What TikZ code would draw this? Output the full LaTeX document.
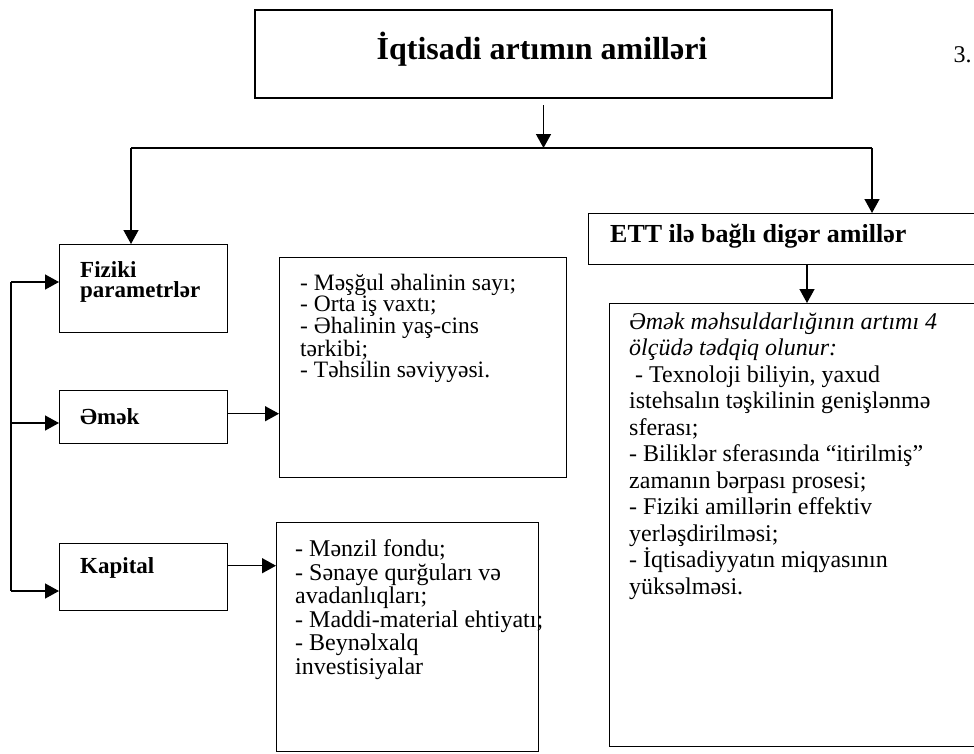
\documentclass[tikz,border=0pt]{standalone}
\usepackage{fontspec}
\setmainfont{Liberation Serif}
\usetikzlibrary{arrows.meta}

\begin{document}
\begin{tikzpicture}[
  x=1pt, y=-1pt,
  box/.style={draw=black, line width=1.4pt, inner sep=0pt, anchor=north west},
  headbox/.style={box, line width=2pt},
  lbl/.style={font=\fontsize{23}{20.5}\selectfont\bfseries, align=left, inner sep=0pt},
  lst/.style={align=left, inner sep=0pt, anchor=north west},
  arr/.style={-{Triangle[length=14pt,width=15pt]}, line width=1.4pt}
]
\useasboundingbox (0,0) rectangle (974,753);

% title
\node[headbox, minimum width=577pt, minimum height=88pt] (top) at (254,9) {};
\node[font=\fontsize{32}{36}\selectfont\bfseries, anchor=base] (toptxt) at (542,59) {İqtisadi artımın amilləri};
\node[font=\fontsize{24}{28}\selectfont, anchor=base west] (pgno) at (950,62) {3.};

% left column
\node[box, minimum width=168pt, minimum height=88pt] (fiz) at (59,244) {};
\node[box, minimum width=168pt, minimum height=53pt] (emk) at (59,390) {};
\node[box, minimum width=168pt, minimum height=67pt] (kap) at (59,543) {};
\node[lbl, anchor=north west] (fiztxt) at (80,261) {Fiziki\\parametrlər};
\node[lbl, anchor=base west]  (emktxt) at (80,424) {Əmək};
\node[lbl, anchor=base west]  (kaptxt) at (80,573) {Kapital};

% lists
\node[box, minimum width=287pt, minimum height=220pt] (emklist) at (279,257) {};
\node[box, minimum width=262pt, minimum height=229pt] (kaplist) at (276,522) {};
\node[lst, font=\fontsize{23.5}{21}\selectfont] (emkitems) at (300,274) {%
  - Məşğul əhalinin sayı;\\
  - Orta iş vaxtı;\\
  - Əhalinin yaş-cins\\
  tərkibi;\\
  - Təhsilin səviyyəsi.};
\node[lst, font=\fontsize{24}{23.5}\selectfont] (kapitems) at (295,539.6) {%
  - Mənzil fondu;\\
  - Sənaye qurğuları və\\
  avadanlıqları;\\
  - Maddi-material ehtiyatı;\\
  - Beynəlxalq\\
  investisiyalar};

% right column
\node[box, minimum width=400pt, minimum height=51pt] (ett) at (588,213) {};
\node[lbl, font=\fontsize{26}{30}\selectfont\bfseries, anchor=base west] (etttxt) at (610,242) {ETT ilə bağlı digər amillər};
\node[box, minimum width=400pt, minimum height=443pt] (ettlist) at (609,303) {};
\node[lst, font=\fontsize{24}{26.5}\selectfont] (ettitems) at (629,312.5) {%
  {\itshape Əmək məhsuldarlığının artımı 4}\\
  {\itshape ölçüdə tədqiq olunur:}\\
  \hspace*{6pt}- Texnoloji biliyin, yaxud\\
  istehsalın təşkilinin genişlənmə\\
  sferası;\\
  - Biliklər sferasında “itirilmiş”\\
  zamanın bərpası prosesi;\\
  - Fiziki amillərin effektiv\\
  yerləşdirilməsi;\\
  - İqtisadiyyatın miqyasının\\
  yüksəlməsi.};

% connectors
\coordinate (hl) at (131,148);
\coordinate (hr) at (872,148);
\coordinate (bt) at (11,282);
\coordinate (bm) at (11,423);
\coordinate (bb) at (11,591);
\coordinate (ettdrop) at (807,0);
\draw[arr, shorten <=6pt] (top.south) -- (top.south |- hl);
\draw[line width=1.4pt] (hl) -- (hr);
\draw[arr] (hl) -- (hl |- fiz.north);
\draw[arr] (hr) -- (hr |- ett.north);
\draw[line width=1.4pt] (bt) -- (bb);
\draw[arr] (bt) -- (bt -| fiz.west);
\draw[arr] (bm) -- (bm -| emk.west);
\draw[arr] (bb) -- (bb -| kap.west);
\draw[arr] ([yshift=3.5pt]emk.east) -- ([yshift=3.5pt]emk.east -| emklist.west);
\draw[arr] ([yshift=11.5pt]kap.east) -- ([yshift=11.5pt]kap.east -| kaplist.west);
\draw[arr] (ett.south -| ettdrop) -- (ettlist.north -| ettdrop);
\end{tikzpicture}
\end{document}
